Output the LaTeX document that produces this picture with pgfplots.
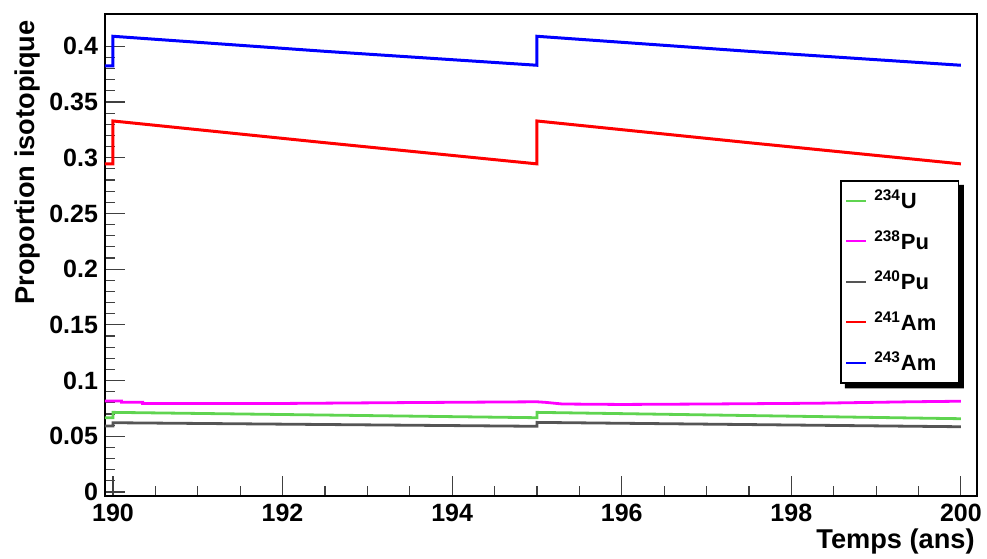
\documentclass[border=0pt]{standalone}
\usepackage{fontspec}
\setmainfont{Liberation Sans}
\usepackage{pgfplots}
\pgfplotsset{compat=1.18}
\definecolor{cgreen}{RGB}{95,212,80}
\definecolor{cmag}{RGB}{255,0,255}
\definecolor{cgray}{RGB}{85,85,85}
\begin{document}
\begin{tikzpicture}
\useasboundingbox (0,0) rectangle (493.5pt,279pt);
\begin{axis}[
  at={(52.5pt,30.75pt)}, anchor=south west,
  scale only axis, width=436pt, height=241.25pt,
  xmin=189.906, xmax=200.19, ymin=-0.004, ymax=0.429,
  xtick={190,192,194,196,198,200}, minor x tick num=3,
  ytick={0,0.05,0.1,0.15,0.2,0.25,0.3,0.35,0.4}, minor y tick num=4,
  tick align=inside, xtick pos=bottom, ytick pos=left,
  major tick length=10pt, minor tick length=5pt,
  tick style={black!75, line width=0.6pt},
  axis line style={line width=1pt},
  /pgf/number format/assume math mode=true,
  /pgf/number format/fixed, /pgf/number format/precision=2,
  tick label style={font=\bfseries\fontsize{12.5}{14}\selectfont},
  xlabel={Temps (ans)}, ylabel={Proportion isotopique},
  label style={font=\bfseries\fontsize{13.6}{15}\selectfont, inner sep=0pt},
  xlabel style={at={(axis description cs:0.9977,-0.0922)}, anchor=east},
  ylabel style={at={(axis description cs:-0.0894,0.9876)}, anchor=east, rotate=0},
  legend style={name=leg, at={(rel axis cs:0.843,0.656)}, anchor=north west,
    draw=black, line width=0.8pt, fill=white,
    font=\bfseries\fontsize{11}{12}\selectfont,
    inner xsep=2pt, inner ysep=4pt, row sep=8.25pt,
    nodes={inner sep=0pt, text height=10pt, text depth=2pt}},
  legend cell align=left,
  legend image code/.code={\draw[#1, line width=1.2pt] (0pt,0pt) -- (10pt,0pt);},
]
\addplot[cgreen, line width=1.4pt] coordinates {
 (189.906,0.0667) (190,0.0667) (190,0.0715) (195,0.0667) (195,0.0715) (200,0.0658)};
\addlegendentry{\hspace*{3.5pt}\makebox[40pt][l]{\textsuperscript{234}U}}
\addplot[cmag, line width=1.4pt] coordinates {
 (189.906,0.0817) (190.1,0.0817) (190.1,0.0805) (190.35,0.0805) (190.35,0.0795)
 (192,0.0795) (193.5,0.0803) (195,0.081) (195.1,0.0805) (195.3,0.079)
 (196,0.0786) (197,0.079) (198.3,0.0797) (199.4,0.081) (200,0.0815)};
\addlegendentry{\hspace*{3.5pt}\makebox[40pt][l]{\textsuperscript{238}Pu}}
\addplot[cgray, line width=1.4pt] coordinates {
 (189.906,0.0592) (190,0.0592) (190,0.0622) (195,0.059) (195,0.0625) (200,0.0586)};
\addlegendentry{\hspace*{3.5pt}\makebox[40pt][l]{\textsuperscript{240}Pu}}
\addplot[red, line width=1.5pt] coordinates {
 (189.906,0.2945) (190,0.2945) (190,0.333) (192.5,0.3135) (195,0.2945)
 (195,0.333) (197.5,0.3135) (200,0.2945)};
\addlegendentry{\hspace*{3.5pt}\makebox[40pt][l]{\textsuperscript{241}Am}}
\addplot[blue, line width=1.5pt] coordinates {
 (189.906,0.3824) (190,0.3824) (190,0.409) (192.5,0.3955) (195,0.383)
 (195,0.409) (197.5,0.3955) (200,0.383)};
\addlegendentry{\hspace*{3.5pt}\makebox[40pt][l]{\textsuperscript{243}Am}}
\end{axis}
\fill[black] ([yshift=-2.4pt]leg.north east) -- ([xshift=2.4pt,yshift=-2.4pt]leg.north east)
  -- ([xshift=2.4pt,yshift=-2.4pt]leg.south east) -- ([xshift=2.4pt,yshift=-2.4pt]leg.south west)
  -- ([xshift=2.4pt]leg.south west) -- (leg.south east) -- cycle;
\end{tikzpicture}
\end{document}
